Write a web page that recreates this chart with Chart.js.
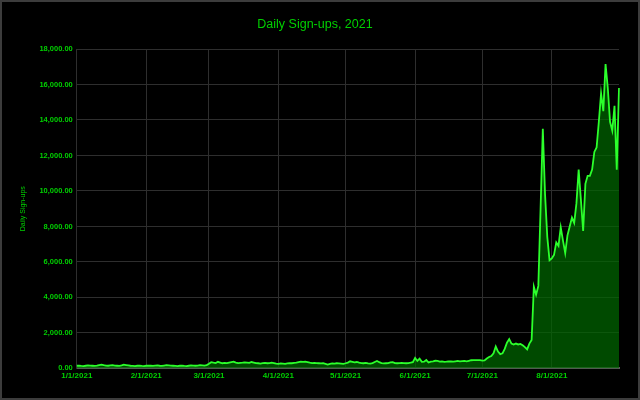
<!DOCTYPE html>
<html>
<head>
<meta charset="utf-8">
<script src="https://cdn.jsdelivr.net/npm/chart.js@4"></script>
<style>
  html, body { margin: 0; padding: 0; background: #000; }
  #wrap { width: 640px; height: 400px; }
</style>
</head>
<body>
<div id="wrap"><canvas id="signups-chart" width="640" height="400"></canvas></div>
<script>
// Daily sign-ups per month
const jan = [150, 160, 140, 130, 150, 170, 160, 150, 140, 160, 190, 210, 180, 160, 150, 170,
             180, 160, 150, 140, 170, 210, 190, 170, 150, 140, 130, 150, 160, 140, 130];
const feb = [150, 160, 150, 140, 160, 170, 150, 140, 160, 180, 170, 160, 150, 140, 130, 150,
             160, 140, 130, 150, 170, 160, 150, 160, 180, 170, 160, 190];
const mar = [260, 350, 320, 300, 370, 330, 290, 310, 300, 330, 360, 380, 330, 300, 310, 320,
             340, 330, 310, 360, 330, 300, 290, 270, 300, 310, 290, 300, 320, 300, 270];
const apr = [260, 280, 270, 260, 280, 300, 290, 310, 330, 360, 380, 370, 380, 350, 320, 300,
             310, 300, 290, 280, 300, 260, 220, 260, 280, 270, 290, 280, 270, 260];
const may = [290, 330, 400, 370, 340, 360, 320, 300, 290, 310, 280, 270, 300, 360, 420, 350,
             300, 280, 290, 300, 340, 350, 300, 290, 300, 310, 300, 290, 300, 320, 350];
const jun = [590, 420, 550, 370, 380, 470, 330, 380, 400, 430, 420, 380, 390, 370, 380, 400,
             390, 380, 400, 420, 400, 410, 420, 400, 430, 460, 470, 470, 470, 470];
const jul = [440, 450, 560, 640, 700, 850, 1230, 950, 800, 850, 1100, 1450, 1650, 1400, 1340, 1400,
             1350, 1380, 1300, 1200, 1070, 1400, 1600, 4600, 4150, 4650, 9000, 13500, 9800, 7400, 6100];
const aug = [6200, 6400, 7100, 6900, 7950, 7200, 6500, 7500, 8000, 8500, 8200, 9300, 11200, 9500, 7750, 10400,
             10850, 10850, 11200, 12200, 12450, 13900, 15500, 14500, 17150, 15800, 13900, 13400, 14800, 11200, 15800];

const months = [jan, feb, mar, apr, may, jun, jul, aug];

// category labels M/D/2021, one per day
const labels = [];
months.forEach((days, m) => {
    days.forEach((_, d) => labels.push(`${m + 1}/${d + 1}/2021`));
});
const signups = months.flat();

const GREEN_TEXT = '#00d000';
const FONT = '"Liberation Sans", Arial, sans-serif';

const backdrop = {
    id: 'backdrop',
    beforeDraw: (chart) => {
        const c = chart.ctx;
        c.save();
        c.fillStyle = '#000';
        c.fillRect(0, 0, chart.width, chart.height);
        c.strokeStyle = '#3c3c3c';
        c.lineWidth = 2;
        c.strokeRect(1, 1, chart.width - 2, chart.height - 2);
        c.restore();
    }
};

const ctx = document.getElementById('signups-chart').getContext('2d');

new Chart(ctx, {
    type: 'line',
    data: {
        labels: labels,
        datasets: [{
            label: 'Daily Sign-ups',
            data: signups,
            borderColor: '#2bff2b',
            borderWidth: 1.8,
            backgroundColor: 'rgba(0, 105, 0, 0.7)',
            fill: 'origin',
            tension: 0,
            pointRadius: 0
        }]
    },
    options: {
        responsive: false,
        animation: false,
        layout: { padding: { left: 11, right: 21, top: 0, bottom: 16 } },
        plugins: {
            legend: { display: false },
            tooltip: { enabled: false },
            title: {
                display: true,
                text: 'Daily Sign-ups, 2021',
                color: GREEN_TEXT,
                font: { family: FONT, size: 12.5, weight: 'normal' },
                padding: { top: 17.5, bottom: 16.5 }
            }
        },
        scales: {
            x: {
                grid: { color: '#2e2e2e', drawTicks: false },
                border: { color: '#5a5a5a', width: 2 },
                ticks: {
                    color: GREEN_TEXT,
                    font: { family: FONT, size: 8, weight: 'bold' },
                    padding: 3,
                    autoSkip: false,
                    maxRotation: 0,
                    callback: function (value) {
                        const lab = this.getLabelForValue(value);
                        return lab.split('/')[1] === '1' ? lab : null;
                    }
                }
            },
            y: {
                min: 0,
                max: 18000,
                grid: { color: '#2e2e2e', drawTicks: false },
                border: { color: '#2e2e2e' },
                ticks: {
                    stepSize: 2000,
                    color: GREEN_TEXT,
                    font: { family: FONT, size: 7.5, weight: 'bold' },
                    padding: 4,
                    callback: (v) => v.toLocaleString('en-US', { minimumFractionDigits: 2, maximumFractionDigits: 2 })
                },
                title: {
                    display: true,
                    text: 'Daily Sign-ups',
                    color: GREEN_TEXT,
                    font: { family: FONT, size: 7 },
                    padding: { top: 8, bottom: 8 }
                }
            }
        }
    },
    plugins: [backdrop]
});
</script>
</body>
</html>
